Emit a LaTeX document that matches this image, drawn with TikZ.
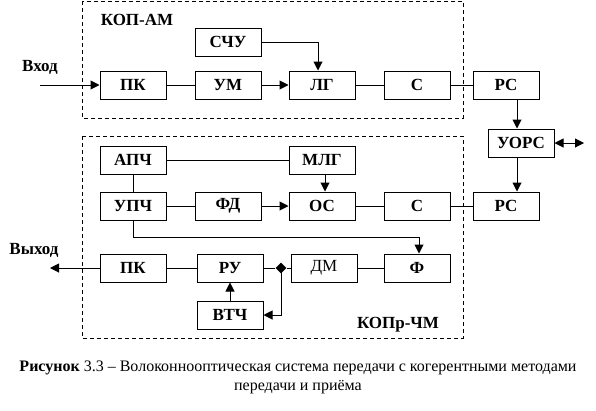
\documentclass[tikz,border=0pt]{standalone}
\usepackage{fontspec}
\setmainfont{Liberation Serif}
\usetikzlibrary{arrows.meta,shapes.geometric}
\begin{document}
\begin{tikzpicture}[x=1pt,y=-1pt,
  every node/.style={font=\fontsize{17}{19}\selectfont\bfseries},
  blk/.style={draw,line width=1pt,minimum width=66pt,minimum height=28pt,inner sep=0pt},
  ln/.style={line width=1pt},
  arr/.style={line width=1pt,-{Triangle[length=9pt,width=9pt]}},
  darr/.style={line width=1pt,{Triangle[length=9pt,width=9pt]}-{Triangle[length=9pt,width=9pt]}},
  frame/.style={line width=1pt,dash pattern=on 4pt off 3pt},
  lbl/.style={inner sep=0pt}]
\useasboundingbox (0,0) rectangle (596,410);
% frames
\draw[frame] (82,1) rectangle (463,118);
\draw[frame] (82,136) rectangle (463,338);
\node[lbl] (kopam) at (137,20) {КОП-АМ};
\node[lbl] (kopr) at (398,325) {КОПр-ЧМ};
% top blocks
\node[blk] (sch) at (228,42) {СЧУ};
\node[blk] (pk1) at (133,85) {ПК};
\node[blk] (um) at (228,85) {УМ};
\node[blk] (lg) at (322,85) {ЛГ};
\node[blk] (c1) at (417,85) {С};
\node[blk] (rs1) at (506,85) {РС};
\node[blk] (uors) at (521,143) {УОРС};
% middle blocks
\node[blk] (apch) at (133,160) {АПЧ};
\node[blk] (mlg) at (322,160) {МЛГ};
\node[blk] (upch) at (133,206) {УПЧ};
\node[blk] (fd) at (228,206) {ФД};
\node[blk] (os) at (322,206) {ОС};
\node[blk] (c2) at (417,206) {С};
\node[blk] (rs2) at (506,206) {РС};
% bottom blocks
\node[blk] (pk2) at (133,268) {ПК};
\node[blk] (ru) at (230,268) {РУ};
\node[blk,font=\fontsize{17}{19}\selectfont] (dm) at (324,268) {ДМ};
\node[blk] (f) at (417,268) {Ф};
\node[blk] (vtch) at (230,315) {ВТЧ};
\node[diamond,fill,inner sep=0pt,minimum width=11pt,minimum height=11pt] (j) at (281,268) {};
% in/out
\node[lbl] (vhod) at (40,67) {Вход};
\node[lbl] (vyhod) at (34,250) {Выход};
\coordinate (inp) at (40,85);
\coordinate (outp) at (50,268);
\coordinate (dar) at (584,143);
% top connections
\draw[arr] (inp) -- (pk1.west);
\draw[ln] (pk1) -- (um);
\draw[arr] (um) -- (lg);
\draw[arr] (sch.east) -| ([xshift=-4pt]lg.north);
\draw[ln] (lg) -- (c1);
\draw[ln] (c1) -- (rs1);
\draw[arr] ([xshift=11pt]rs1.south) -- ([xshift=-4pt]uors.north);
\draw[darr] (uors.east) -- (dar);
\draw[arr] ([xshift=-4pt]uors.south) -- ([xshift=11pt]rs2.north);
% middle connections
\draw[ln] (apch) -- (mlg);
\draw[ln] (apch) -- (upch);
\draw[arr] ([xshift=3pt]mlg.south) -- ([xshift=3pt]os.north);
\draw[ln] (upch) -- (fd);
\draw[arr] (fd) -- (os);
\draw[ln] (os) -- (c2);
\draw[ln] (c2) -- (rs2);
\draw[arr] (upch.south) -- ++(0,17) -| ([xshift=2pt]f.north);
% bottom connections
\draw[ln] (f) -- (dm);
\draw[ln] (dm) -- (j);
\draw[ln] (j) -- (ru);
\draw[arr] (j.center) |- (vtch.east);
\draw[arr] (vtch) -- (ru);
\draw[ln] (ru) -- (pk2);
\draw[arr] (pk2.west) -- (outp);
% caption
\node[lbl,font=\fontsize{16}{18}\selectfont] (cap1) at (298,368) {\textbf{Рисунок} 3.3 – Волоконнооптическая система передачи с когерентными методами};
\node[lbl,font=\fontsize{16}{18}\selectfont] (cap2) at (298,387) {передачи и приёма};
\end{tikzpicture}
\end{document}
